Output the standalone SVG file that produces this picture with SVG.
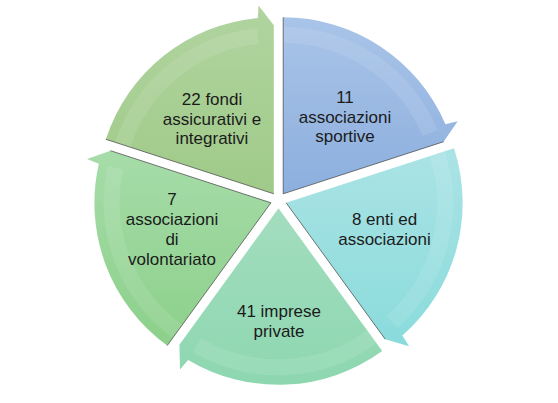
<svg xmlns="http://www.w3.org/2000/svg" width="558" height="403" viewBox="0 0 558 403">
  <defs>
    <linearGradient id="gBlue" x1="0" y1="0" x2="0" y2="1">
      <stop offset="0" stop-color="#A9C4E8"/>
      <stop offset="1" stop-color="#8CAFDE"/>
    </linearGradient>
    <linearGradient id="gTeal" x1="0" y1="0" x2="0" y2="1">
      <stop offset="0" stop-color="#ABE3E5"/>
      <stop offset="1" stop-color="#8ADBDC"/>
    </linearGradient>
    <linearGradient id="gMint" x1="0" y1="0" x2="0" y2="1">
      <stop offset="0" stop-color="#A3DDBF"/>
      <stop offset="1" stop-color="#8DD7B0"/>
    </linearGradient>
    <linearGradient id="gGreen" x1="0" y1="0" x2="0" y2="1">
      <stop offset="0" stop-color="#A6DCA9"/>
      <stop offset="1" stop-color="#8CD08A"/>
    </linearGradient>
    <linearGradient id="gOlive" x1="0" y1="0" x2="0" y2="1">
      <stop offset="0" stop-color="#B1D4A0"/>
      <stop offset="1" stop-color="#9FCA88"/>
    </linearGradient>
  </defs>
  <style>
    .lbl { font-family: "Liberation Sans", Arial, sans-serif; font-size: 17px; fill: #1b1b1b; text-anchor: middle; }
    .edge { stroke: #4a4a4a; stroke-width: 1; stroke-opacity: 0.75; fill: none; }
    .shine { stroke: #ffffff; stroke-opacity: 0.10; stroke-width: 16; fill: none; }
  </style>

  <g id="seg-sportive">
    <path d="M283.2,193.8 L283.2,17.3 A176.5,176.5 0 0 1 445.4,124.3 L457.7,121.2 L443.6,141.7 Z" fill="url(#gBlue)"/>
    <path class="shine" d="M283.2,35 A158.8,158.8 0 0 1 430,133"/>
    <path class="edge" d="M283.2,17.3 L283.2,193.8 L443.6,141.7"/>
    <text class="lbl" x="345" y="103">11</text>
    <text class="lbl" x="345" y="122.5">associazioni</text>
    <text class="lbl" x="345" y="142">sportive</text>
  </g>

  <g id="seg-enti">
    <path d="M286.1,202.8 L454.0,148.3 A176.5,176.5 0 0 1 402.4,335.6 L409.1,346.3 L385.2,339.2 Z" fill="url(#gTeal)"/>
    <path class="shine" d="M437.1,153.7 A158.8,158.8 0 0 1 392,322"/>
    <path class="edge" d="M286.1,202.8 L385.2,339.2"/>
    <text class="lbl" x="384.5" y="225">8 enti ed</text>
    <text class="lbl" x="384.5" y="245">associazioni</text>
  </g>

  <g id="seg-imprese">
    <path d="M278.5,208.3 L382.2,351.1 A176.5,176.5 0 0 1 188.1,359.9 L180.0,369.6 L179.4,344.7 Z" fill="url(#gMint)"/>
    <path class="shine" d="M371.8,336.8 A158.8,158.8 0 0 1 197,345"/>
    <text class="lbl" x="279" y="317">41 imprese</text>
    <text class="lbl" x="279" y="337">private</text>
  </g>

  <g id="seg-volontariato">
    <path d="M270.9,202.8 L167.2,345.6 A176.5,176.5 0 0 1 98.8,163.7 L87.0,159.0 L110.5,150.7 Z" fill="url(#gGreen)"/>
    <path class="shine" d="M177.5,331.3 A158.8,158.8 0 0 1 115.5,168"/>
    <path class="edge" d="M167.2,345.6 L270.9,202.8 L110.5,150.7"/>
    <text class="lbl" x="172" y="204.5">7</text>
    <text class="lbl" x="172" y="225">associazioni</text>
    <text class="lbl" x="172" y="245">di</text>
    <text class="lbl" x="172" y="265">volontariato</text>
  </g>

  <g id="seg-fondi">
    <path d="M273.8,193.8 L105.9,139.3 A176.5,176.5 0 0 1 257.8,18.0 L258.6,5.4 L273.8,25.2 Z" fill="url(#gOlive)"/>
    <path class="shine" d="M122.8,144.7 A158.8,158.8 0 0 1 258,36"/>
    <path class="edge" d="M105.9,139.3 L273.8,193.8" stroke-opacity="0.45"/>
    <text class="lbl" x="212" y="105">22 fondi</text>
    <text class="lbl" x="212" y="124.5">assicurativi e</text>
    <text class="lbl" x="212" y="144">integrativi</text>
  </g>

  <g id="connectors"/>
</svg>
